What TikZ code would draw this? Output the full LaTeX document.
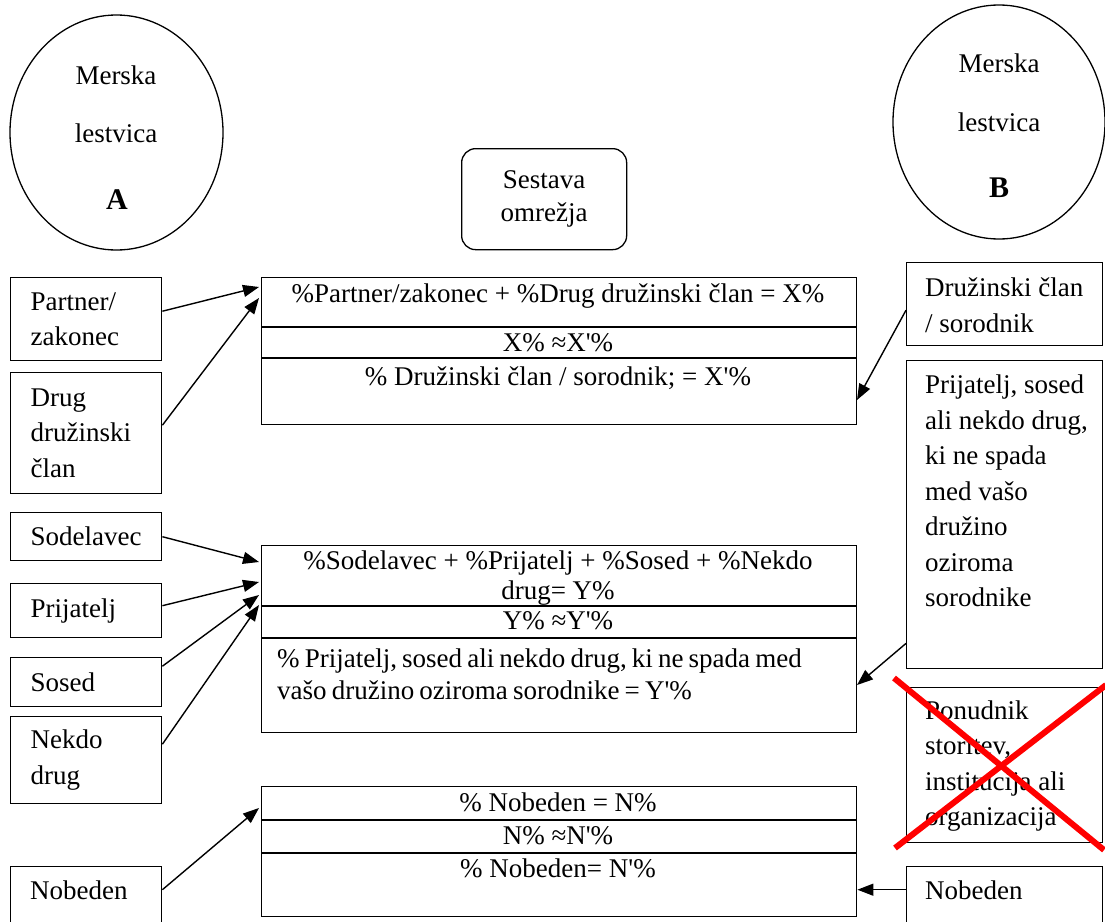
\documentclass[tikz,border=0pt]{standalone}
\usepackage{fontspec}
\setmainfont{Liberation Serif}
\usetikzlibrary{arrows.meta,calc,shapes.geometric}
\newcommand{\fs}{\fontsize{27}{35.5}\selectfont}
\newcommand{\qs}{\textquotesingle}
\begin{document}
\begin{tikzpicture}[x=1pt,y=-1pt,
  box/.style={draw, line width=1.4pt, inner sep=0pt, anchor=north west, font=\fs, align=left},
  txt/.style={inner sep=0pt, font=\fs},
  arr/.style={line width=1.4pt, -{Triangle[length=16pt,width=12pt]}},
  ell/.style={draw, ellipse, line width=1.3pt, inner sep=0pt},
  cross/.style={red, line width=6pt},
  big/.style={inner sep=0pt, font=\fontsize{30}{30}\selectfont\bfseries}
]
\useasboundingbox (0,0) rectangle (1105,921);
\clip (0,0) rectangle (1105,921);
\fill[white] (0,0) rectangle (1105,921);

% ellipses
\node[ell, minimum width=213pt, minimum height=235pt] (ellA) at (116.5,132.5) {};
\node[txt, anchor=base] (mA1) at (116,84) {Merska};
\node[txt, anchor=base] (mA2) at (116,142) {lestvica};
\node[big, anchor=base] (mA3) at (117,209) {A};

\node[ell, minimum width=212pt, minimum height=234pt] (ellB) at (999,122) {};
\node[txt, anchor=base] (mB1) at (999,72) {Merska};
\node[txt, anchor=base] (mB2) at (999,131) {lestvica};
\node[big, anchor=base] (mB3) at (999,197) {B};

% Sestava omrezja
\node[draw, rounded corners=14pt, line width=1.3pt, inner sep=0pt, minimum width=165pt, minimum height=101pt,
      anchor=north west, align=center, font=\fontsize{27}{33}\selectfont] (sestava) at (461,148) {Sestava\\omrežja};

% left boxes
\node[box, minimum width=151pt, minimum height=83pt, text width=111pt] (partner) at (10,277) {Partner/\\zakonec};
\node[box, minimum width=151pt, minimum height=121pt, text width=111pt] (drug) at (10,372) {Drug\\družinski\\član};
\node[box, minimum width=151pt, minimum height=48pt, text width=111pt] (sodel) at (10,512) {Sodelavec};
\node[box, minimum width=151pt, minimum height=54pt, text width=111pt] (prij) at (10,583) {Prijatelj};
\node[box, minimum width=151pt, minimum height=49pt, text width=111pt] (sosed) at (10,657) {Sosed};
\node[box, minimum width=151pt, minimum height=87pt, text width=111pt] (nekdo) at (10,716) {Nekdo\\drug};
\node[box, minimum width=151pt, minimum height=60pt] (nobL) at (10,866) {};
\node[txt, anchor=base west] (nobLt) at (30,899) {Nobeden};

% right boxes
\node[box, minimum width=196pt, minimum height=83pt] (druz) at (906,262) {};
\node[txt, anchor=west, align=left] (druzt) at (925,305) {Družinski član\\/ sorodnik};
\node[box, minimum width=196pt, minimum height=308pt] (prijR) at (906,360) {};
\node[txt, anchor=north west, align=left] (prijRt) at (925,375) {Prijatelj, sosed\\ali nekdo drug,\\ki ne spada\\med vašo\\družino\\oziroma\\sorodnike};
\node[box, minimum width=196pt, minimum height=155pt] (ponud) at (906,687) {};
\node[txt, anchor=west, align=left] (ponudt) at (925,766) {Ponudnik\\storitev,\\institucija ali\\organizacija};
\node[box, minimum width=196pt, minimum height=60pt] (nobR) at (906,866) {};
\node[txt, anchor=base west] (nobRt) at (925,899) {Nobeden};

% central boxes
\node[box, minimum width=595pt, minimum height=147pt] (bx) at (261,277) {};
\coordinate (bx1) at (261,327);
\coordinate (bx2) at (261,358);
\draw[line width=1.4pt] (bx1) -- (bx1 -| bx.east);
\draw[line width=1.4pt] (bx2) -- (bx2 -| bx.east);
\node[txt, anchor=base] (x1) at (558,302) {\%Partner/zakonec + \%Drug družinski član = X\%};
\node[txt, anchor=base] (x2) at (558,351) {X\% ≈X\qs\%};
\node[txt, anchor=base] (x3) at (558,385) {\% Družinski član / sorodnik; = X\qs\%};

\node[box, minimum width=595pt, minimum height=187pt] (by) at (261,545) {};
\coordinate (by1) at (261,606);
\coordinate (by2) at (261,638);
\draw[line width=1.4pt] (by1) -- (by1 -| by.east);
\draw[line width=1.4pt] (by2) -- (by2 -| by.east);
\node[txt, anchor=base] (y1) at (558,569) {\%Sodelavec + \%Prijatelj + \%Sosed + \%Nekdo};
\node[txt, anchor=base] (y1b) at (558,599) {drug= Y\%};
\node[txt, anchor=base] (y2) at (558,629) {Y\% ≈Y\qs\%};
\node[txt, anchor=base west] (y3) at (277,667) {\spaceskip=0.19em\relax \% Prijatelj, sosed ali nekdo drug, ki ne spada med};
\node[txt, anchor=base west] (y3b) at (277,699) {\spaceskip=0.19em\relax vašo družino oziroma sorodnike = Y\qs\%};

\node[box, minimum width=595pt, minimum height=130pt] (bn) at (261,786) {};
\coordinate (bn1) at (261,820);
\coordinate (bn2) at (261,853);
\draw[line width=1.4pt] (bn1) -- (bn1 -| bn.east);
\draw[line width=1.4pt] (bn2) -- (bn2 -| bn.east);
\node[txt, anchor=base] (n1) at (558,811) {\% Nobeden = N\%};
\node[txt, anchor=base] (n2) at (558,844) {N\% ≈N\qs\%};
\node[txt, anchor=base] (n3) at (558,877) {\% Nobeden= N\qs\%};

% arrow targets
\coordinate (tX1) at (259,287);
\coordinate (tX2) at (259,298);
\coordinate (tY1) at (259,562);
\coordinate (tY2) at (259,582);
\coordinate (tY3) at (259,595);
\coordinate (tY4) at (259,605);
\coordinate (tN) at (259,808);
\coordinate (tXr) at (857,400);
\coordinate (tYr) at (857,685);
\coordinate (sNr) at ([yshift=7pt]nobR.west);

\draw[arr] ([yshift=8pt]partner.east) -- (tX1);
\draw[arr] ([yshift=8pt]drug.east) -- (tX2);
\draw[arr] (sodel.east) -- (tY1);
\draw[arr] ([yshift=5pt]prij.east) -- (tY2);
\draw[arr] ([yshift=16pt]sosed.east) -- (tY3);
\draw[arr] ([yshift=16pt]nekdo.east) -- (tY4);
\draw[arr] ([yshift=7pt]nobL.east) -- (tN);
\draw[arr] ([yshift=-6pt]druz.west) -- (tXr);
\draw[arr] ([yshift=26pt]prijR.south west) -- (tYr);
\draw[arr] (sNr) -- (sNr -| bn.east);

% red cross
\coordinate (c1) at (894,678);
\coordinate (c2) at (1104,850);
\coordinate (c3) at (1106,685);
\coordinate (c4) at (895,848);
\draw[cross] (c1) -- (c2);
\draw[cross] (c3) -- (c4);
\end{tikzpicture}
\end{document}
